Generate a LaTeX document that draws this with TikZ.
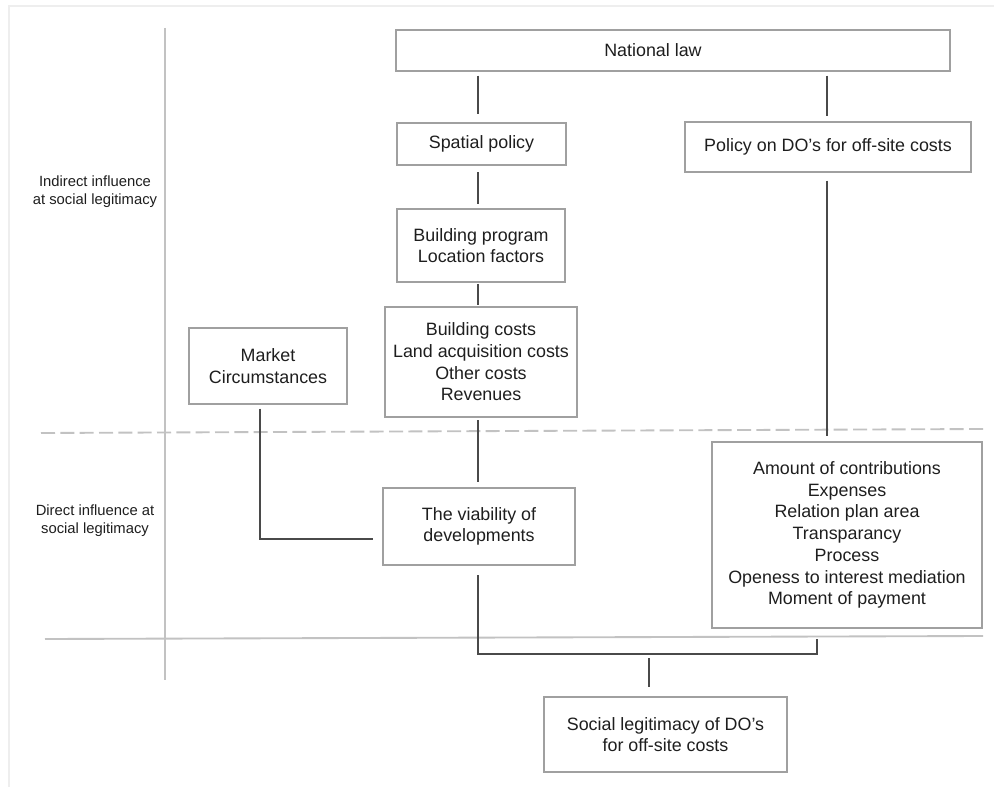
\documentclass[tikz,border=0pt]{standalone}
\usepackage{fontspec}
\setmainfont{Liberation Sans}
\definecolor{txt}{HTML}{1E1E1E}
\definecolor{boxline}{HTML}{A0A0A0}
\definecolor{connline}{HTML}{4A4A4A}
\definecolor{sepline}{HTML}{C2C2C2}
\definecolor{frameline}{HTML}{EEEEEE}
\tikzset{
  box/.style={draw=boxline, line width=1pt, inner sep=0pt, align=center, text=txt,
    font=\fontsize{13.4pt}{16.3pt}\selectfont},
  sidelabel/.style={inner sep=0pt, align=center, text=txt,
    font=\fontsize{11.1pt}{13.5pt}\selectfont},
  conn/.style={draw=connline, line width=1.5pt},
  sep/.style={draw=sepline, line width=1.4pt},
}
\begin{document}
\begin{tikzpicture}[x=0.75pt,y=-0.75pt]
\useasboundingbox (0,0) rectangle (994,787);
% faint frame
\draw[frameline, line width=1pt] (9,787) -- (9,6) -- (994,6);

% separators
\draw[sep] (165,28) -- (165,680);
\draw[sep, dash pattern=on 10.5pt off 4pt] (41,433) -- (983,429);
\draw[sep] (45,639) -- (983,636);

% side labels
\node[sidelabel] (lind) at (95,192) {Indirect influence\\at social legitimacy};
\node[sidelabel] (ldir) at (95,521) {Direct influence at\\social legitimacy};

% boxes
\node[box, minimum width={554*0.75pt}, minimum height={41*0.75pt}] (law) at (673,50.5) {\hspace*{-30pt}National law};
\node[box, minimum width={169*0.75pt}, minimum height={42*0.75pt}] (spatial) at (481.5,144) {Spatial policy};
\node[box, minimum width={168*0.75pt}, minimum height={73*0.75pt}] (bprog) at (481,245.5) {Building program\\Location factors};
\node[box, minimum width={192*0.75pt}, minimum height={110*0.75pt}] (bcosts) at (481,362) {Building costs\\Land acquisition costs\\Other costs\\Revenues};
\node[box, minimum width={158*0.75pt}, minimum height={76*0.75pt}] (market) at (268,366) {Market\\Circumstances};
\node[box, minimum width={192*0.75pt}, minimum height={77*0.75pt}] (viab) at (479,526.5) {The viability of\\developments};
\node[box, minimum width={286*0.75pt}, minimum height={50*0.75pt}] (policy) at (828,147) {Policy on DO’s for off-site costs};
\node[box, minimum width={270*0.75pt}, minimum height={186*0.75pt}] (amount) at (847,535) {Amount of contributions\\Expenses\\Relation plan area\\Transparancy\\Process\\Openess to interest mediation\\Moment of payment};
\node[box, minimum width={243*0.75pt}, minimum height={75*0.75pt}] (social) at (665.5,734.5) {Social legitimacy of DO’s\\for off-site costs};

% column coordinates
\coordinate (cx) at (478,0);
\coordinate (px) at (827,0);
\coordinate (mx) at (260,0);
\coordinate (rx) at (817,0);
\coordinate (sx) at (649,0);
\coordinate (hy) at (0,654);
\coordinate (my) at (0,539);

% connectors
\draw[conn, shorten <=3pt, shorten >=6pt] (law.south -| cx) -- (spatial.north -| cx);
\draw[conn, shorten <=5pt, shorten >=3pt] (spatial.south -| cx) -- (bprog.north -| cx);
\draw[conn, shorten <=1pt, shorten >=1pt] (bprog.south -| cx) -- (bcosts.north -| cx);
\draw[conn, shorten <=2pt, shorten >=4pt] (bcosts.south -| cx) -- (viab.north -| cx);
\draw[conn, shorten <=3pt, shorten >=4pt] (law.south -| px) -- (policy.north -| px);
\draw[conn, shorten <=6pt, shorten >=4pt] (policy.south -| px) -- (amount.north -| px);
\draw[conn, shorten <=3pt, shorten >=7pt] (market.south -| mx) -- (mx |- my) -- (viab.west |- my);
\draw[conn, shorten <=7pt, shorten >=7.5pt] (viab.south -| cx) -- (cx |- hy) -- (rx |- hy) -- (amount.south -| rx);
\coordinate (stemtop) at (sx |- hy);
\draw[conn, shorten <=3pt, shorten >=7pt] (stemtop) -- (social.north -| sx);
\end{tikzpicture}
\end{document}
